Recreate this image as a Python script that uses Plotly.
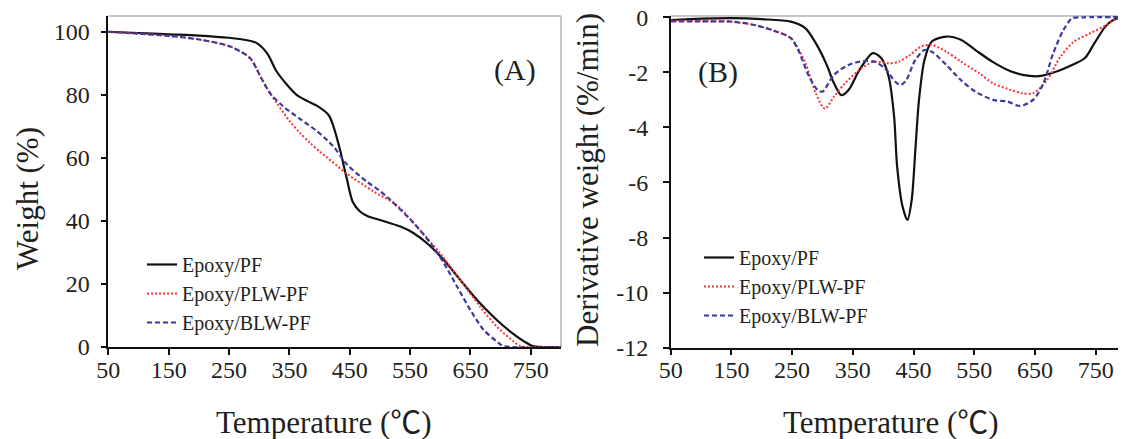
import plotly.graph_objects as go

# ---------------- data ----------------
# (A) TGA weight (%)
tga_pf_T = [50, 100, 150, 200, 250, 280, 296, 313, 329, 346, 362, 380, 396, 415, 423, 434, 445, 455, 467, 480, 500,
            534, 556, 578, 606, 633, 661, 688, 716, 744, 755, 800]
tga_pf_W = [100, 99.6, 99.2, 98.8, 98.1, 97.3, 96.4, 93.2, 87.4, 83.2, 80.0, 78.0, 76.5, 73.6, 70.0, 62.5, 53.5,
            46.0, 43.0, 41.5, 40.3, 38.2, 36.1, 32.9, 27.6, 21.3, 14.9, 9.6, 4.9, 1.2, 0.2, 0]

tga_plw_T = [50, 100, 150, 202, 252, 285, 302, 318, 329, 351, 368, 385, 401, 412, 445, 490, 528, 561, 600, 633,
             666, 694, 722, 733, 800]
tga_plw_W = [100, 99.4, 98.7, 97.5, 95.3, 91.6, 85.8, 80.5, 77.4, 71.5, 67.8, 64.6, 61.9, 60.2, 55.0, 49.3, 45.0,
             38.2, 29.7, 21.3, 12.8, 6.4, 1.7, 0.3, 0]

tga_blw_T = [50, 100, 150, 202, 252, 285, 302, 318, 340, 368, 396, 423, 445, 478, 500, 517, 556, 584, 606, 628,
             650, 672, 694, 705, 800]
tga_blw_W = [100, 99.4, 98.7, 97.5, 95.3, 91.6, 85.8, 80.5, 76.3, 72.3, 68.4, 63.6, 58.0, 52.5, 49.5, 46.7, 39.3,
             32.9, 26.6, 19.1, 11.7, 5.4, 1.7, 0.3, 0]

# (B) DTG derivative weight (%/min)
dtg_pf_T = [50, 100, 150, 200, 248, 272, 289, 307, 319, 331, 343, 361, 383, 397, 409, 418, 423, 432, 440, 447, 453,
            459, 468, 480, 504, 528, 552, 581, 611, 641, 660, 683, 712, 732, 748, 766, 779, 790, 800]
dtg_pf_D = [-0.1, -0.05, -0.03, -0.07, -0.16, -0.4, -0.94, -1.73, -2.4, -2.83, -2.64, -1.91, -1.3, -1.49, -2.15,
            -3.6, -5.42, -6.88, -7.36, -6.63, -4.82, -3.0, -1.55, -0.88, -0.70, -0.82, -1.19, -1.63, -1.97, -2.13,
            -2.13, -1.99, -1.72, -1.49, -0.94, -0.34, -0.1, -0.03, -0.05]

dtg_plw_T = [50, 100, 150, 188, 220, 248, 272, 289, 304, 319, 337, 361, 385, 409, 426, 444, 462, 480, 504, 528, 558,
             581, 611, 629, 647, 670, 692, 714, 741, 768, 785, 792, 800]
dtg_plw_D = [-0.12, -0.14, -0.16, -0.28, -0.48, -0.76, -1.67, -2.76, -3.32, -2.88, -2.4, -1.91, -1.61, -1.67, -1.61,
             -1.37, -1.07, -1.0, -1.25, -1.61, -2.03, -2.4, -2.64, -2.76, -2.76, -2.28, -1.43, -0.89, -0.58, -0.28,
             -0.04, -0.02, -0.34]

dtg_blw_T = [50, 100, 150, 188, 224, 248, 260, 278, 292, 300, 319, 343, 367, 385, 403, 420, 429, 438, 453, 468, 480,
             504, 528, 552, 581, 605, 625, 647, 664, 680, 697, 711, 730, 800]
dtg_blw_D = [-0.15, -0.15, -0.16, -0.28, -0.52, -0.76, -1.19, -2.15, -2.64, -2.7, -2.09, -1.73, -1.59, -1.61, -1.85,
             -2.34, -2.46, -2.28, -1.55, -1.19, -1.25, -1.73, -2.28, -2.70, -3.0, -3.06, -3.22, -3.0, -2.4, -1.31,
             -0.46, -0.04, 0, 0]

series_names = ["Epoxy/PF", "Epoxy/PLW-PF", "Epoxy/BLW-PF"]
x_ticks = [50, 150, 250, 350, 450, 550, 650, 750]
yA_ticks = [0, 20, 40, 60, 80, 100]
yB_ticks = [-12, -10, -8, -6, -4, -2, 0]
yB_ticktext = ["-12", "-10", "-8", "-6", "-4", "-2", "0"]

# ---------------- styling ----------------
# the page body has an 8px default margin, so the figure is sized to fill the
# remaining part of the 1126x439 window and positions are given in window pixels
OFF = 8
W, H = 1126 - OFF, 439 - OFF
FONT = "Liberation Serif, Noto Sans CJK JP, serif"
TXT = "#231f20"
styles = [dict(color="#111111", width=2.2, dash="solid"),
          dict(color="#ff3333", width=2.0, dash="2px,2px"),
          dict(color="#3b3b9e", width=2.2, dash="5px,3px")]

fig = go.Figure()
tga = [(tga_pf_T, tga_pf_W), (tga_plw_T, tga_plw_W), (tga_blw_T, tga_blw_W)]
dtg = [(dtg_pf_T, dtg_pf_D), (dtg_plw_T, dtg_plw_D), (dtg_blw_T, dtg_blw_D)]
for (t, w), name, st in zip(tga, series_names, styles):
    fig.add_trace(go.Scatter(x=t, y=w, mode="lines", name=name, line=dict(shape="spline", smoothing=0.8, **st),
                             xaxis="x", yaxis="y", legend="legend"))
for (t, d), name, st in zip(dtg, series_names, styles):
    fig.add_trace(go.Scatter(x=t, y=d, mode="lines", name=name, line=dict(shape="spline", smoothing=0.8, **st),
                             xaxis="x2", yaxis="y2", legend="legend2"))

def px_x(p):
    return min(1.0, (p - OFF) / W)

def px_y(p):
    return (H - (p - OFF)) / H

axis_common = dict(showgrid=False, zeroline=False, showline=True, linecolor="#111", linewidth=1.5,
                   ticks="outside", ticklen=6, tickwidth=1.5, tickcolor="#111", automargin=False,
                   ticklabeloverflow="allow",
                   tickfont=dict(family=FONT, size=24, color=TXT))

fig.update_layout(
    width=W, height=H, margin=dict(l=0, r=0, t=0, b=0, autoexpand=False),
    paper_bgcolor="white", plot_bgcolor="white",
    xaxis=dict(domain=[px_x(108.3), px_x(561)], range=[50, 800], tickvals=x_ticks, anchor="y",
               ticklabelstandoff=-6, **axis_common),
    yaxis=dict(domain=[px_y(347), px_y(16)], range=[0, 105], tickvals=yA_ticks, anchor="x",
               ticklabelstandoff=6, **axis_common),
    xaxis2=dict(domain=[px_x(670.7), 1.0], range=[50, 800], tickvals=x_ticks, anchor="y2",
                ticklabelstandoff=-6, **axis_common),
    yaxis2=dict(domain=[px_y(347.7), px_y(15.9)], range=[-12, 0.05], tickvals=yB_ticks, ticktext=yB_ticktext,
                anchor="x2", ticklabelstandoff=10, **axis_common),
    legend=dict(x=px_x(142), y=px_y(245), xanchor="left", yanchor="top", bgcolor="rgba(0,0,0,0)",
                font=dict(family=FONT, size=20, color=TXT), tracegroupgap=0),
    legend2=dict(x=px_x(699), y=px_y(238), xanchor="left", yanchor="top", bgcolor="rgba(0,0,0,0)",
                 font=dict(family=FONT, size=20, color=TXT), tracegroupgap=0),
    showlegend=True,
)

# light grey top/right frame lines
for xr, yr in [("x domain", "y domain"), ("x2 domain", "y2 domain")]:
    fig.add_shape(type="line", xref=xr, yref=yr, x0=0, x1=1, y0=1, y1=1, line=dict(color="#b5b5b5", width=1.5),
                  layer="below")
    fig.add_shape(type="line", xref=xr, yref=yr, x0=1, x1=1, y0=0, y1=1, line=dict(color="#b5b5b5", width=1.5),
                  layer="below")

title_font = dict(family=FONT, size=31, color=TXT)
ann = [
    dict(text="Temperature (℃)", x=px_x(324), y=px_y(422), xref="paper", yref="paper", showarrow=False,
         font=title_font, xanchor="center", yanchor="middle"),
    dict(text="Temperature (℃)", x=px_x(891), y=px_y(422), xref="paper", yref="paper", showarrow=False,
         font=title_font, xanchor="center", yanchor="middle"),
    dict(text="Weight (%)", x=px_x(27), y=px_y(199), xref="paper", yref="paper", showarrow=False,
         font=title_font, textangle=-90, xanchor="center", yanchor="middle"),
    dict(text="Derivative weight (%/min)", x=px_x(587), y=px_y(180), xref="paper", yref="paper", showarrow=False,
         font=title_font, textangle=-90, xanchor="center", yanchor="middle"),
    dict(text="(A)", x=px_x(515), y=px_y(70), xref="paper", yref="paper", showarrow=False,
         font=dict(family=FONT, size=30, color=TXT), xanchor="center", yanchor="middle"),
    dict(text="(B)", x=px_x(718), y=px_y(72), xref="paper", yref="paper", showarrow=False,
         font=dict(family=FONT, size=30, color=TXT), xanchor="center", yanchor="middle"),
]
fig.update_layout(annotations=ann)

fig.write_html("out.html")
